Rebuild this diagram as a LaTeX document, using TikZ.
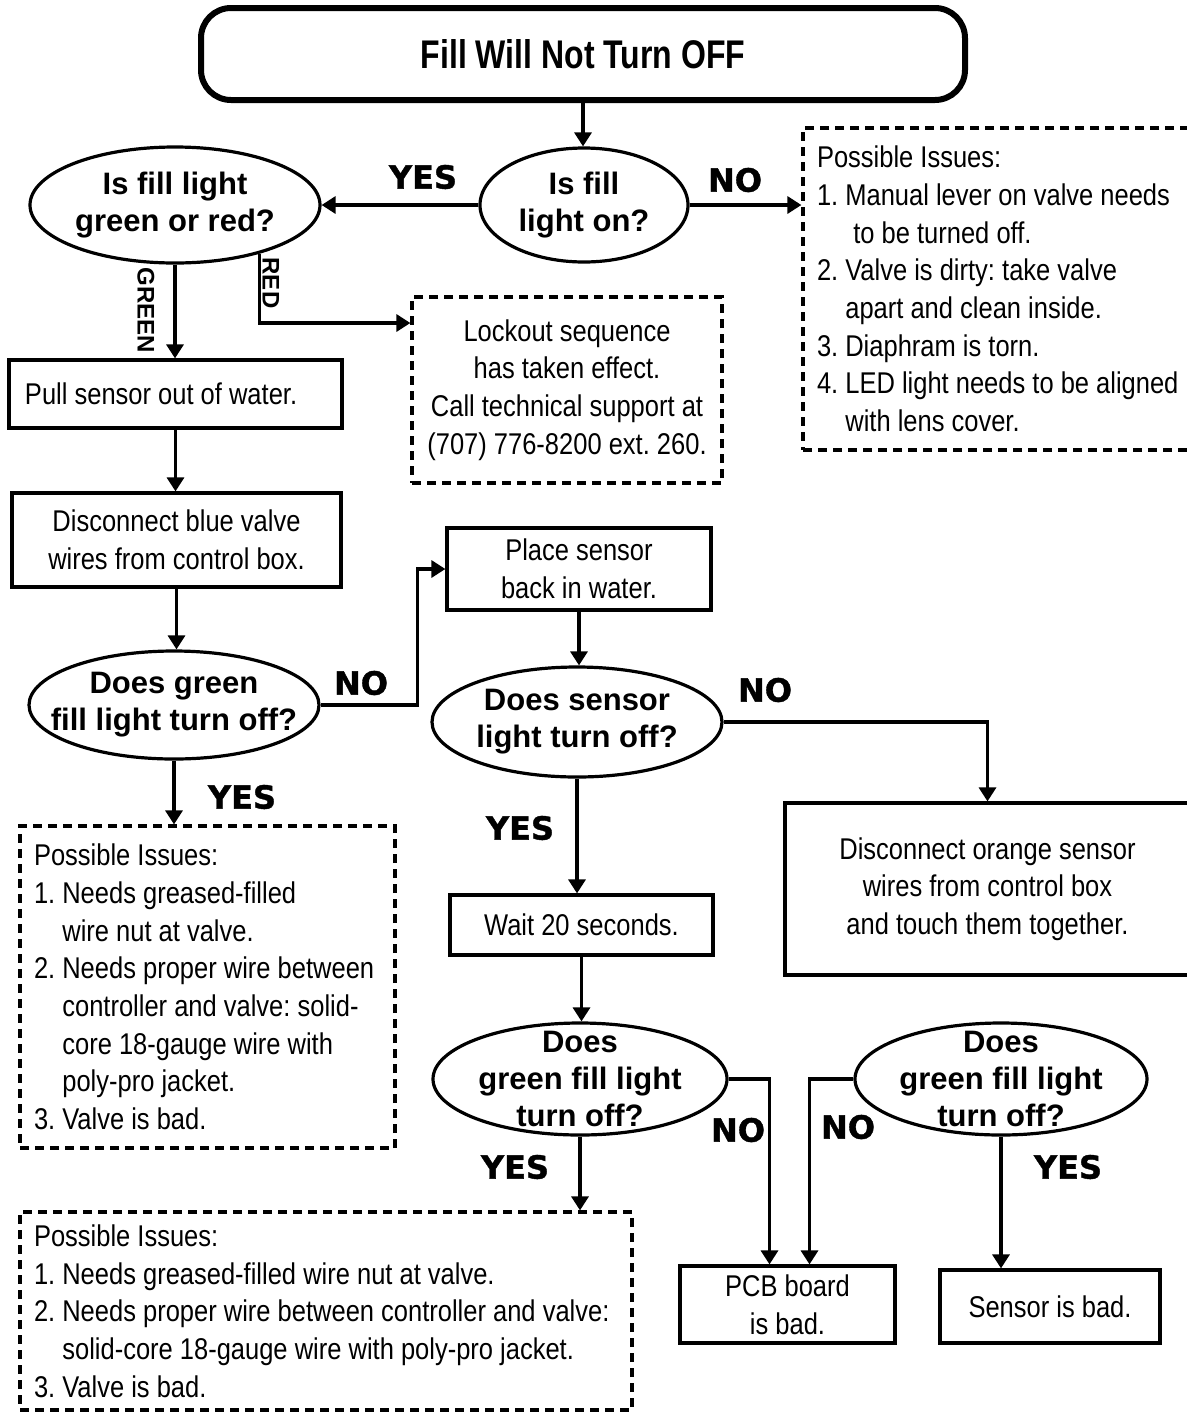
\documentclass[tikz,border=0pt]{standalone}
\usepackage{fontspec}
\setmainfont{Liberation Sans}[FakeStretch=0.85]
\newfontfamily\headfont{Liberation Sans}[FakeStretch=0.8]
\newfontfamily\askfont{Liberation Sans}
\newfontfamily\ansfont{DejaVu Sans}[BoldFeatures={FakeBold=1.2}]
\usetikzlibrary{shapes.geometric}
\usetikzlibrary{arrows.meta}
\frenchspacing

\newcommand{\bodytext}{\fontsize{15pt}{18.85pt}\selectfont}
\newcommand{\asktext}{\askfont\bfseries\fontsize{15.5pt}{18.6pt}\selectfont}
\newcommand{\anstext}{\ansfont\bfseries\fontsize{16pt}{19pt}\selectfont}
\newcommand{\wiretext}{\askfont\bfseries\fontsize{12pt}{14pt}\selectfont}
\newcommand{\indentnum}{\phantom{1. }}

\begin{document}
\begin{tikzpicture}[x=0.5pt, y=-0.5pt, line width=1.6pt,
  arr/.style={-{Triangle[length=7pt, width=8.5pt]}},
  stepbox/.style={draw, rectangle, inner sep=0pt, align=center, font=\bodytext},
  ask/.style={draw, ellipse, inner sep=-12pt, align=center, font=\asktext},
  issues/.style={draw, dashed, dash pattern=on 4.5pt off 3pt, inner sep=0pt, align=center, font=\bodytext},
  listtext/.style={anchor=west, align=left, inner xsep=7pt, inner ysep=0pt, label distance=0pt, font=\bodytext},
  ans/.style={font=\anstext},
  wire/.style={font=\wiretext, rotate=-90}]

\useasboundingbox (0,0) rectangle (1187,1420);

% Titel
\node[draw, rounded corners=15pt, line width=3pt, minimum width=382pt, minimum height=46pt,
  font=\headfont\bfseries\fontsize{20pt}{24pt}\selectfont] (title) at (583,54) {Fill Will Not Turn OFF};

% erste Fragen
\node[ask, minimum width=104pt, minimum height=57pt] (lighton) at (584,205) {Is fill\\light on?};
\node[ask, minimum width=145pt, minimum height=58pt] (colour) at (175,205) {Is fill light\\green or red?};
\node[ans] (yesA) at (423,177) {YES};
\node[ans] (noA) at (735,180) {NO};

\node[issues, minimum width=196pt, minimum height=161pt, label={[listtext]west:{Possible Issues:\\
1. Manual lever on valve needs\\
\indentnum\hspace{4pt}to be turned off.\\
2. Valve is dirty: take valve\\
\indentnum apart and clean inside.\\
3. Diaphram is torn.\\
4. LED light needs to be aligned\\
\indentnum with lens cover.}}] (issuesA) at (999,289) {};

\draw[arr] (title.south) -- (title.south |- lighton.north);
\draw[arr] (lighton) -- (colour);
\draw[arr] (lighton) -- (issuesA.west |- lighton);

% GREEN / RED
\node[wire] (greenlab) at (146,310) {GREEN};
\node[wire] (redlab) at (271,283) {RED};
\node[issues, minimum width=155pt, minimum height=93pt] (lockout) at (567,390) {Lockout sequence\\has taken effect.\\Call technical support at\\(707) 776-8200 ext. 260.};
\node[stepbox, minimum width=166.5pt, minimum height=34pt,
  label={[listtext, inner xsep=8pt]west:Pull sensor out of water.}] (pull) at (175.5,394) {};

\draw[arr] (colour.south) -- (colour.south |- pull.north);
\draw[arr] (colour.-30) |- ([yshift=33.5pt]lockout.west);

% linker Zweig
\node[stepbox, minimum width=164.5pt, minimum height=47pt] (bluewires) at (176.5,540) {Disconnect blue valve\\wires from control box.};
\node[ask, minimum width=145pt, minimum height=54pt] (greenoff) at (174,705) {Does green\\fill light turn off?};
\node[ans] (noB) at (361,683) {NO};
\node[ans] (yesB) at (242,797) {YES};
\node[issues, minimum width=187.5pt, minimum height=161pt, label={[listtext]west:{Possible Issues:\\
1. Needs greased-filled\\
\indentnum wire nut at valve.\\
2. Needs proper wire between\\
\indentnum controller and valve: solid-\\
\indentnum core 18-gauge wire with\\
\indentnum poly-pro jacket.\\
3. Valve is bad.}}] (issuesB) at (207.5,987) {};

\draw[arr] (pull.south) -- (pull.south |- bluewires.north);
\draw[arr] (bluewires.south) -- (bluewires.south |- greenoff.north);
\draw[arr] (greenoff.south) -- (greenoff.south |- issuesB.north);

% Sensor zurueck ins Wasser
\node[stepbox, minimum width=132pt, minimum height=41pt] (place) at (579,569) {Place sensor\\back in water.};
\node[ask, minimum width=145pt, minimum height=55pt] (sensoroff) at (577,722) {Does sensor\\light turn off?};
\node[ans] (noC) at (765,690) {NO};
\node[ans] (yesC) at (520,828) {YES};
\node[stepbox, minimum width=202.5pt, minimum height=86pt] (orange) at (987.5,889) {Disconnect orange sensor\\wires from control box\\and touch them together.};
\node[stepbox, minimum width=131.5pt, minimum height=30pt] (wait) at (581.5,925) {Wait 20 seconds.};

\draw[arr] (greenoff.east) -- ++(97,0) |- (place.west);
\draw[arr] (place.south) -- (place.south |- sensoroff.north);
\draw[arr] (sensoroff.east) -| (orange.north);
\draw[arr] (sensoroff.south) -- (sensoroff.south |- wait.north);

% untere Fragen
\node[ask, minimum width=147pt, minimum height=56pt] (fillA) at (580,1079) {Does\\green fill light\\turn off?};
\node[ask, minimum width=146pt, minimum height=56pt] (fillB) at (1001,1079) {Does\\green fill light\\turn off?};
\node[ans] (yesD) at (515,1167) {YES};
\node[ans] (noD) at (738,1130) {NO};
\node[ans] (noE) at (848,1127) {NO};
\node[ans] (yesE) at (1068,1167) {YES};

\node[issues, minimum width=306pt, minimum height=99pt, label={[listtext]west:{Possible Issues:\\
1. Needs greased-filled wire nut at valve.\\
2. Needs proper wire between controller and valve:\\
\indentnum solid-core 18-gauge wire with poly-pro jacket.\\
3. Valve is bad.}}] (issuesC) at (326,1311) {};
\node[stepbox, minimum width=107.5pt, minimum height=38.5pt] (pcb) at (787.5,1304.5) {PCB board\\is bad.};
\node[stepbox, minimum width=110pt, minimum height=36.5pt] (sensorbad) at (1050,1306.5) {Sensor is bad.};

\draw[arr] (wait.south) -- (wait.south |- fillA.north);
\draw[arr] (fillA.south) -- (fillA.south |- issuesC.north);
\draw[arr] (fillA.east) -| ([xshift=-9pt]pcb.north);
\draw[arr] (fillB.west) -| ([xshift=11pt]pcb.north);
\draw[arr] (fillB.south) -- (fillB.south |- sensorbad.north);
\end{tikzpicture}
\end{document}
